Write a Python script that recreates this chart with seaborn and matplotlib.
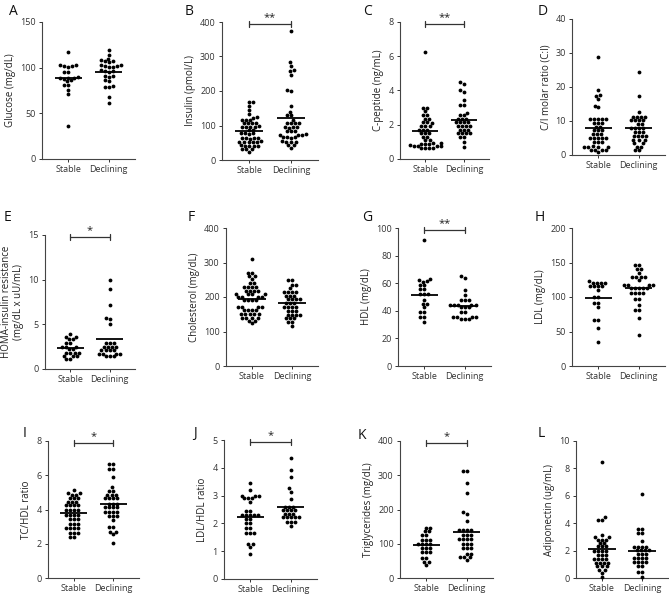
import numpy as np
import pandas as pd
import matplotlib
matplotlib.use("Agg")
import matplotlib.pyplot as plt
import seaborn as sns

groups = ["Stable", "Declining"]

glucose_stable = [117, 103, 102, 102, 101, 103, 95, 95, 89, 89, 88, 90, 89, 85, 86, 81, 81, 76, 71, 36]
glucose_declining = [119, 114, 110, 107, 107, 108, 106, 102, 103, 101, 102, 103, 101,
                     96, 97, 95, 96, 91, 91, 90, 85, 86, 79, 79, 80, 68, 61]

insulin_stable = [168, 168, 157, 145, 133, 123, 124, 116, 116, 117, 107, 107, 108, 106,
                  97, 97, 98, 96, 97, 88, 87, 77, 77, 78, 76, 63, 63, 62, 64, 63,
                  53, 53, 52, 54, 53, 53, 42, 42, 43, 41, 42, 32, 33, 32, 24]
insulin_declining = [375, 283, 272, 262, 258, 247, 203, 200, 157, 140, 129, 129, 116,
                     107, 107, 108, 106, 95, 95, 96, 94, 84, 84, 85, 73, 73, 74, 72,
                     66, 66, 67, 65, 53, 53, 54, 52, 44, 44, 36]

cpep_stable = [6.26, 3.0, 3.0, 2.8, 2.55, 2.55, 2.35, 2.35, 2.15, 2.15, 2.1, 1.95, 1.95,
               1.9, 1.72, 1.72, 1.7, 1.5, 1.5, 1.5, 1.3, 1.3, 1.12, 1.12,
               0.92, 0.9, 0.94, 0.9, 0.88, 0.8, 0.77, 0.78, 0.74, 0.77,
               0.66, 0.65, 0.62, 0.64]
cpep_declining = [4.5, 4.4, 3.9, 4.0, 3.45, 3.15, 3.15, 2.7, 2.55, 2.55, 2.35, 2.35, 2.35,
                  2.15, 2.15, 2.15, 2.15, 1.9, 1.9, 1.9, 1.9, 1.7, 1.7, 1.7,
                  1.5, 1.5, 1.5, 1.5, 1.3, 1.3, 1.0, 0.7]

ci_stable = [28.9, 19.1, 17.5, 17.6, 16.5, 14.4, 14.0, 10.6, 10.6, 10.5, 10.6, 10.7,
             9.3, 9.3, 9.3, 8.3, 8.3, 7.3, 7.3, 7.3, 6.2, 6.2, 6.2,
             5.1, 5.1, 5.1, 5.1, 5.1, 3.9, 3.9, 3.9, 2.5, 2.5, 2.5, 2.5, 2.6,
             1.6, 1.6, 1.6, 1.6, 1.0]
ci_declining = [24.5, 17.4, 12.7, 11.3, 11.3, 11.3, 11.3, 10.3, 10.3, 10.3, 10.3,
                9.1, 9.1, 8.0, 8.0, 8.0, 8.0, 6.8, 6.8, 6.8, 5.5, 5.5, 5.5, 5.5,
                4.4, 4.4, 4.4, 3.4, 3.4, 2.5, 2.5, 1.5, 1.5]

homa_stable = [3.9, 3.6, 3.6, 3.35, 3.35, 2.95, 2.95, 2.5, 2.5, 2.5, 2.2, 2.2,
               1.8, 1.8, 1.8, 1.8, 1.4, 1.4, 1.4, 1.1, 1.1]
homa_declining = [10.0, 9.0, 7.2, 5.7, 5.6, 5.0, 2.95, 2.95, 2.95, 2.5, 2.5, 2.5, 2.5,
                  2.1, 2.1, 2.1, 2.1, 1.7, 1.7, 1.7, 1.7, 1.4, 1.4, 1.4]

chol_stable = [310, 270, 270, 260, 260, 252, 240, 240, 230, 230, 230, 230,
               218, 218, 218, 218, 208, 208, 208, 208, 200, 200, 200, 200,
               191, 191, 191, 191, 171, 171, 171, 171, 162, 162, 162, 162,
               150, 150, 150, 150, 150, 140, 140, 140, 140, 131, 131, 125]
chol_declining = [250, 250, 235, 235, 225, 215, 215, 215, 215, 203, 203, 203,
                  193, 193, 193, 193, 182, 182, 182, 172, 172, 172, 172,
                  160, 160, 160, 148, 148, 148, 148, 138, 138, 138, 128, 128, 115]

hdl_stable = [91, 61.5, 61, 62, 63, 58.5, 58.5, 55.5, 55.5, 52, 52, 52, 48,
              45, 45, 42.5, 39, 39, 35.7, 35.7, 32]
hdl_declining = [65, 63.5, 55, 51.5, 48, 48, 48, 44.5, 44.5, 44.5, 44.5, 44.5,
                 42.5, 42.5, 42.5, 39, 39, 35.3, 35.3, 35.3, 35.3, 33.7, 33.7, 33.7]

ldl_stable = [123.5, 121, 121, 121, 121, 116, 116, 116, 116, 110, 100, 100,
              91, 91, 85, 67, 66, 55, 34.4]
ldl_declining = [147, 147, 140, 140, 135, 129, 129, 129, 129, 125,
                 117.5, 117.5, 117.5, 117.5, 113, 113, 113, 113, 113,
                 106.5, 106.5, 106.5, 106.5, 97, 97, 88.6, 81, 81, 69, 45]

tchdl_stable = [5.13, 4.95, 4.95, 4.85, 4.85, 4.65, 4.65, 4.65, 4.45, 4.45, 4.45,
                4.25, 4.25, 4.25, 4.25, 4.0, 4.0, 4.0, 4.0, 3.7, 3.7, 3.7, 3.7,
                3.43, 3.43, 3.43, 3.15, 3.15, 3.15, 2.9, 2.9, 2.9, 2.9,
                2.65, 2.65, 2.65, 2.42, 2.42]
tchdl_declining = [6.65, 6.65, 6.35, 6.35, 5.9, 5.3, 5.1, 5.1, 4.85, 4.85, 4.85,
                   4.65, 4.65, 4.65, 4.65, 4.35, 4.35, 4.35, 4.12, 4.12, 4.12, 4.12,
                   3.87, 3.87, 3.87, 3.87, 3.62, 3.62, 3.62, 3.4, 3.0, 3.0,
                   2.7, 2.7, 2.55, 2.07]

ldlhdl_stable = [3.47, 3.2, 3.0, 3.0, 3.0, 2.9, 2.9, 2.9, 2.78, 2.45, 2.45,
                 2.3, 2.3, 2.3, 2.3, 2.3, 2.15, 2.15, 2.0, 2.0, 1.85, 1.85,
                 1.65, 1.65, 1.65, 1.27, 1.27, 1.16, 0.9]
ldlhdl_declining = [4.34, 3.92, 3.68, 3.26, 3.14, 2.87, 2.6, 2.6, 2.6,
                    2.48, 2.48, 2.48, 2.48, 2.34, 2.34, 2.34,
                    2.22, 2.22, 2.22, 2.22, 2.22, 2.06, 2.06, 2.06, 1.9]

tg_stable = [146, 146, 136, 136, 126, 126, 111, 111, 111, 100, 100, 100, 100,
             87, 87, 87, 75, 75, 75, 58, 58, 48, 48, 39]
tg_declining = [313, 313, 276, 247, 192, 188, 165, 140, 140, 140, 140,
                126, 126, 126, 113, 113, 113, 113, 100, 100, 100,
                87, 87, 87, 71, 71, 61, 61, 61, 53]

adipo_stable = [8.5, 4.45, 4.25, 4.25, 3.15, 3.0, 3.0, 2.8, 2.8, 2.8, 2.55, 2.55,
                2.3, 2.3, 2.3, 2.0, 2.0, 2.0, 2.0, 1.7, 1.7, 1.7,
                1.4, 1.4, 1.4, 1.4, 1.1, 1.1, 1.1, 1.1, 0.85, 0.85, 0.85,
                0.6, 0.6, 0.4, 0.1]
adipo_declining = [6.1, 3.6, 3.6, 3.3, 3.3, 2.7, 2.28, 2.28, 2.28, 2.28,
                   2.03, 2.03, 2.03, 2.03, 1.77, 1.77, 1.77, 1.45, 1.45, 1.45, 1.45,
                   1.16, 1.16, 1.16, 1.16, 0.85, 0.85, 0.45, 0.45, 0.1]

panels = [
    ("A", "Glucose (mg/dL)", glucose_stable, glucose_declining, 150, 50, ""),
    ("B", "Insulin (pmol/L)", insulin_stable, insulin_declining, 400, 100, "**"),
    ("C", "C-peptide (ng/mL)", cpep_stable, cpep_declining, 8, 2, "**"),
    ("D", "C/I molar ratio (C:I)", ci_stable, ci_declining, 40, 10, ""),
    ("E", "HOMA-insulin resistance\n(mg/dL x uU/mL)", homa_stable, homa_declining, 15, 5, "*"),
    ("F", "Cholesterol (mg/dL)", chol_stable, chol_declining, 400, 100, ""),
    ("G", "HDL (mg/dL)", hdl_stable, hdl_declining, 100, 20, "**"),
    ("H", "LDL (mg/dL)", ldl_stable, ldl_declining, 200, 50, ""),
    ("I", "TC/HDL ratio", tchdl_stable, tchdl_declining, 8, 2, "*"),
    ("J", "LDL/HDL ratio", ldlhdl_stable, ldlhdl_declining, 5, 1, "*"),
    ("K", "Triglycerides (mg/dL)", tg_stable, tg_declining, 400, 100, "*"),
    ("L", "Adiponectin (ug/mL)", adipo_stable, adipo_declining, 10, 2, ""),
]

# axes boxes in pixels: left, right, top, bottom ; letter position
W, H = 669, 597
boxes = [
    (42, 135, 22, 159, 9, 4), (222, 318, 22, 160, 185, 4),
    (400, 489, 22, 159, 363, 4), (572, 665, 19, 155, 538, 4),
    (45, 135, 235, 369, 4, 210), (226, 318, 228, 366, 188, 210),
    (398, 491, 228, 366, 362, 210), (572, 665, 228, 366, 535, 210),
    (48, 139, 441, 578, 23, 426), (224, 317, 440, 579, 193, 426),
    (400, 493, 441, 578, 358, 428), (576, 668, 441, 578, 538, 426),
]

sns.set_style("ticks")
plt.rcParams["font.family"] = ["Open Sans", "DejaVu Sans"]

fig = plt.figure(figsize=(W / 100, H / 100), dpi=100)

for (letter, ylabel, st, dc, ymax, step, sig), (l, r, t, b, lx, ly) in zip(panels, boxes):
    ax = fig.add_axes([l / W, 1 - b / H, (r - l) / W, (b - t) / H])
    df = pd.DataFrame({"group": ["Stable"] * len(st) + ["Declining"] * len(dc),
                       "value": st + dc})
    sns.swarmplot(data=df, x="group", y="value", order=groups, color="black",
                  size=2.75, ax=ax, clip_on=False, warn_thresh=1)
    for i, vals in enumerate([st, dc]):
        ax.hlines(np.mean(vals), i - 0.34, i + 0.34, color="black", lw=1.3, zorder=5)
    ax.set_xlim(-0.65, 1.65)
    ax.set_ylim(0, ymax)
    ax.set_yticks(np.arange(0, ymax + step / 2, step))
    ax.set_xlabel("")
    ax.set_ylabel(ylabel, fontsize=7, color="#222222", labelpad=3, linespacing=1.15)
    ax.tick_params(labelsize=6.5, length=2.5, width=0.7, colors="#333333", pad=2)
    for s in ["left", "bottom"]:
        ax.spines[s].set_linewidth(0.8)
        ax.spines[s].set_color("#444444")
    sns.despine(ax=ax)
    if sig:
        yb = ymax * 0.985
        cap = ymax * 0.022
        ax.plot([0, 1], [yb, yb], color="#333333", lw=0.9, clip_on=False)
        ax.plot([0, 0], [yb - cap, yb + cap], color="#333333", lw=0.9, clip_on=False)
        ax.plot([1, 1], [yb - cap, yb + cap], color="#333333", lw=0.9, clip_on=False)
        ax.text(0.5, yb + ymax * 0.005, sig, ha="center", va="bottom", fontsize=8,
                color="#222222")
    fig.text(lx / W, 1 - ly / H, letter, fontsize=10, ha="left", va="top",
             color="#111111")

fig.savefig("out.png", dpi=100)
